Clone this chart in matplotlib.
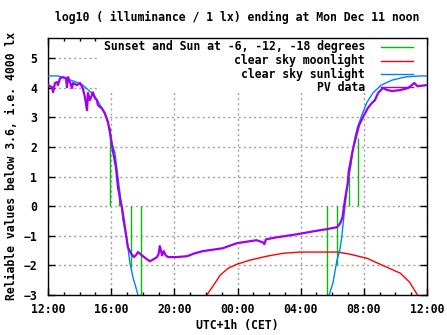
import numpy as np
import matplotlib
matplotlib.use('Agg')
import matplotlib.pyplot as plt
from matplotlib.patches import Rectangle

# hours after Sun Dec 10, 12:00 (CET)
tick_hours = [0, 4, 8, 12, 16, 20, 24]
tick_labels = ['12:00', '16:00', '20:00', '00:00', '04:00', '08:00', '12:00']

# clear sky sunlight (evening, gap, morning)
sun_h = [0.0, 0.63, 1.2, 1.8, 2.2, 2.6, 3.0, 3.5, 3.8, 4.05, 4.24, 4.43, 4.56, 4.68, 4.75, 5.0, 5.19, 5.38, 5.7, 6.0,
         np.nan,
         17.6, 17.8, 18.04, 18.3, 18.48, 18.6, 18.73, 18.9, 19.05, 19.2, 19.3, 19.43, 19.6, 19.87, 20.2, 20.57,
         21.1, 21.8, 22.7, 23.7, 24.0]
sun_v = [4.40, 4.40, 4.30, 4.19, 4.09, 3.90, 3.68, 3.24, 2.80, 2.13, 1.79, 0.98, 0.44, -0.14, -0.47, -1.15, -1.93,
         -2.40, -3.0, -3.5,
         np.nan,
         -3.5, -3.0, -2.6, -1.82, -1.49, -1.05, -0.37, 0.44, 0.98, 1.45, 1.9, 2.3, 2.67, 3.07, 3.51, 3.82,
         4.09, 4.26, 4.37, 4.40, 4.40]

# clear sky moonlight
moon_h = [10.0, 10.06, 10.57, 10.9, 11.4, 11.96, 12.8, 13.85, 14.9, 15.95, 18.35, 19.1, 20.2, 21.2, 22.3, 22.9,
          23.4, 23.5]
moon_v = [-3.2, -3.0, -2.6, -2.33, -2.1, -1.96, -1.82, -1.69, -1.59, -1.55, -1.55, -1.62, -1.76, -2.0, -2.26,
          -2.57, -3.0, -3.2]

# PV data
pv_h = [0.0, 0.25, 0.32, 0.44, 0.57, 0.63, 0.76, 0.95, 1.14, 1.2, 1.27, 1.39, 1.52, 1.58, 1.83, 2.03, 2.2, 2.34,
        2.47, 2.53, 2.65, 2.78, 2.84, 2.97, 3.1, 3.16, 3.4, 3.6, 3.8, 3.92, 4.1, 4.3, 4.43, 4.62, 4.68, 4.87,
        5.06, 5.25, 5.44, 5.56, 5.7, 5.94, 6.26, 6.45, 6.7, 6.9, 7.0, 7.08, 7.15, 7.22, 7.33, 7.45, 7.6, 8.15,
        8.8, 9.3, 9.8, 11.07, 11.96, 13.2, 13.6, 13.7, 13.8, 14.5, 15.76, 16.8, 17.6, 18.3, 18.5, 18.65, 18.8,
        18.98, 19.05, 19.2, 19.3, 19.5, 19.7, 19.94, 20.25, 20.5, 20.7, 20.9, 21.2, 21.5, 21.8, 22.3, 22.8,
        23.2, 23.4, 24.0]
pv_v = [4.09, 4.02, 3.85, 4.16, 4.19, 4.09, 4.32, 4.36, 4.32, 4.02, 4.36, 4.19, 3.99, 4.16, 4.09, 4.16, 3.99, 3.68,
        3.24, 3.82, 3.58, 3.75, 3.85, 3.65, 3.58, 3.41, 3.31, 3.14, 2.84, 2.5, 1.89, 1.32, 0.64, 0.1, -0.03, -0.71,
        -1.39, -1.59, -1.72, -1.66, -1.55, -1.66, -1.79, -1.86, -1.79, -1.72, -1.62, -1.35, -1.49, -1.66, -1.52,
        -1.66, -1.72, -1.72, -1.69, -1.59, -1.52, -1.42, -1.25, -1.15, -1.22, -1.28, -1.12, -1.05, -0.95, -0.85,
        -0.78, -0.71, -0.58, -0.37, 0.2, 0.78, 1.2, 1.62, 1.9, 2.33, 2.74, 3.0, 3.31, 3.48, 3.58, 3.82, 3.99,
        3.92, 3.89, 3.92, 3.99, 4.16, 4.05, 4.09]

# sunset/sunrise and sun at -6, -12, -18 degrees
event_h = [3.92, 4.49, 5.23, 5.86, 17.68, 18.31, 19.03, 19.66]
event_v = [2.67, 0.5, -2.06, -3.5, -3.5, -2.0, 1.0, 2.3]

plt.rcParams['font.family'] = 'DejaVu Sans Mono'
plt.rcParams['font.weight'] = 'bold'
plt.rcParams['font.size'] = 8.3

fig = plt.figure(figsize=(4.47, 3.35), dpi=100)
ax = fig.add_axes([48/447, 1 - 295/335, 379/447, 257/335])

ax.set_axisbelow(True)
ax.grid(True, color='#a0a0a0', linestyle=(0, (1.5, 2.2)), linewidth=1)

# key background hides the grid
ax.add_patch(Rectangle((0.137, 0.786), 0.863, 0.214, transform=ax.transAxes,
                       facecolor='white', edgecolor='none', zorder=0.8))

ax.vlines(event_h, 0, event_v, color='#00c000', linewidth=1, zorder=2)
ax.plot(moon_h, moon_v, color='#ff0000', linewidth=1, zorder=2)
ax.plot(sun_h, sun_v, color='#0080ff', linewidth=1, zorder=3)
ax.plot(pv_h, pv_v, color='#a000f0', linewidth=1.6, zorder=4)

ax.set_xlim(0, 24)
ax.set_ylim(-3, 5.68)
ax.set_xticks(tick_hours)
ax.set_xticklabels(tick_labels)
ax.set_xticks(np.arange(0, 25, 1), minor=True)
ax.set_yticks(np.arange(-3, 6, 1))
ax.tick_params(which='both', direction='in', top=True, right=True, width=1)
ax.tick_params(which='major', length=5)
ax.tick_params(axis='x', which='major', pad=5.5)
ax.tick_params(axis='y', which='major', pad=8)
ax.tick_params(which='minor', length=2.5)
for s in ax.spines.values():
    s.set_linewidth(1)

# key
labels = ['Sunset and Sun at -6, -12, -18 degrees', 'clear sky moonlight', 'clear sky sunlight', 'PV data']
colors = ['#00c000', '#ff0000', '#0080ff', '#a000f0']
rows = [0.965, 0.911, 0.860, 0.809]
for lab, c, yy in zip(labels, colors, rows):
    ax.text(0.836, yy, lab, transform=ax.transAxes, ha='right', va='center', zorder=5)
    ax.plot([0.879, 0.963], [yy, yy], transform=ax.transAxes, color=c, linewidth=1, zorder=5)

fig.text(237/447, 1 - 17/335, 'log10 ( illuminance / 1 lx) ending at Mon Dec 11 noon', ha='center', va='center')
fig.text(237/447, 1 - 326/335, 'UTC+1h (CET)', ha='center', va='center')
fig.text(12/447, 1 - 166/335, 'Reliable values below 3.6, i.e. 4000 lx', ha='center', va='center', rotation=90)

fig.savefig('out.png', dpi=100)
